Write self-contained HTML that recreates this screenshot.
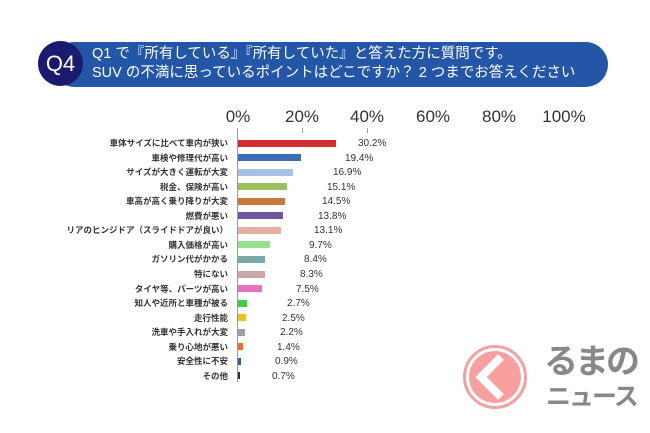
<!DOCTYPE html>
<html><head><meta charset="utf-8"><style>
body{margin:0;width:650px;height:433px;background:#fff;position:relative;overflow:hidden;font-family:"Liberation Sans","Noto Sans CJK JP",sans-serif;}
.a{position:absolute;}
.lab{position:absolute;right:422px;font-size:8.5px;font-weight:bold;color:#333;white-space:nowrap;line-height:10px;}
.bar{position:absolute;left:238px;height:7px;}
.val{position:absolute;font-size:10px;color:#333;line-height:10px;}
.tk{position:absolute;top:107px;font-size:17px;color:#333;transform:translateX(-50%);}
</style></head><body>
<div class="a" style="left:52px;top:42px;width:556px;height:45px;background:#2456a8;border-radius:23px;"></div>
<div class="a" style="left:38px;top:41px;width:45px;height:45px;background:#1a1a6e;border-radius:50%;color:#fff;font-size:22px;line-height:45px;text-align:center;">Q4</div>
<div class="a" style="left:92px;top:45px;color:#fff;font-size:14.5px;line-height:19px;white-space:nowrap;">Q1 で『所有している』『所有していた』と答えた方に質問です。<br>SUV の不満に思っているポイントはどこですか？ 2 つまでお答えください</div>
<div class="tk" style="left:238px">0%</div>
<div class="tk" style="left:302px">20%</div>
<div class="tk" style="left:367px">40%</div>
<div class="tk" style="left:433px">60%</div>
<div class="tk" style="left:499px">80%</div>
<div class="tk" style="left:564px">100%</div>
<div class="a" style="left:237px;top:128px;width:1px;height:254px;background:#999"></div>
<div class="a" style="left:302px;top:128px;width:1px;height:5px;background:#999"></div>
<div class="a" style="left:367px;top:128px;width:1px;height:5px;background:#999"></div>
<div id="c"></div>
<script>
var d=[["車体サイズに比べて車内が狭い",30.2,"#d03030",358],["車検や修理代が高い",19.4,"#3c6cb4",345],["サイズが大きく運転が大変",16.9,"#a8c0e4",333],["税金、保険が高い",15.1,"#9cc060",327],["車高が高く乗り降りが大変",14.5,"#c87838",322],["燃費が悪い",13.8,"#7058a0",318],["リアのヒンジドア（スライドドアが良い）",13.1,"#e8b0a0",314],["購入価格が高い",9.7,"#98e090",309],["ガソリン代がかかる",8.4,"#78a8a8",304],["特にない",8.3,"#c8a8a8",300],["タイヤ等、パーツが高い",7.5,"#e870c0",296],["知人や近所と車種が被る",2.7,"#40d040",287],["走行性能",2.5,"#f0c020",282],["洗車や手入れが大変",2.2,"#a0a0a0",280],["乗り心地が悪い",1.4,"#f07020",277],["安全性に不安",0.9,"#3060a0",275],["その他",0.7,"#203040",272]];
var h="";d.forEach(function(r,i){var y=143+i*14.56;
h+='<div class="lab" style="top:'+(y-5)+'px">'+r[0]+'</div><div class="bar" style="top:'+(y-3.5)+'px;width:'+(r[1]*3.25)+'px;background:'+r[2]+'"></div><div class="val" style="left:'+r[3]+'px;top:'+(y-4)+'px">'+r[1].toFixed(1)+'%</div>';});
document.getElementById("c").innerHTML=h;
</script>
<div class="a" style="left:463px;top:345px;width:64px;height:64px;border-radius:50%;border:3px solid #f4a0a0;box-sizing:border-box;"></div>
<div class="a" style="left:469px;top:351px;width:52px;height:52px;border-radius:50%;background:#f8a0a0;"></div>
<svg class="a" style="left:469px;top:351px" width="52" height="52"><polyline points="32,6 12,26 32,46" fill="none" stroke="#fff" stroke-width="8"/></svg>
<div class="a" style="left:544px;top:343px;font-size:34px;font-weight:bold;color:#888;line-height:38px;letter-spacing:-3px;">るまの</div>
<div class="a" style="left:546px;top:384px;font-size:25px;font-weight:bold;color:#888;line-height:27px;letter-spacing:-2px;">ニュース</div>
</body></html>
